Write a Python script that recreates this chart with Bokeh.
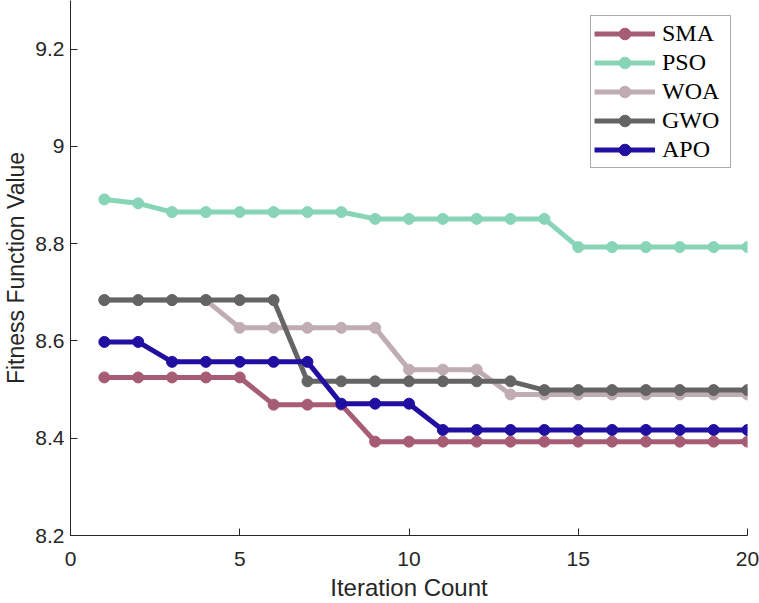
from bokeh.plotting import figure
from bokeh.models import Range1d, FixedTicker, Legend, LegendItem
from bokeh.embed import file_html
from bokeh.resources import INLINE

iterations = list(range(1, 21))
series_names = ["SMA", "PSO", "WOA", "GWO", "APO"]
sma = [8.525]*5 + [8.469]*3 + [8.393]*12
pso = [8.891, 8.883] + [8.865]*6 + [8.851]*6 + [8.793]*6
woa = [8.684]*4 + [8.627]*5 + [8.541]*3 + [8.490]*8
gwo = [8.684]*6 + [8.517]*7 + [8.499]*7
apo = [8.598]*2 + [8.557]*5 + [8.471]*3 + [8.417]*10
colors = ["#A65C73", "#87D5B6", "#C0ACB3", "#646464", "#200FA0"]
x_ticks = [0, 5, 10, 15, 20]
y_ticks = [8.2, 8.4, 8.6, 8.8, 9.0, 9.2]
y_tick_labels = ["8.2", "8.4", "8.6", "8.8", "9", "9.2"]

p = figure(width=759, height=603, x_range=Range1d(0, 20), y_range=Range1d(8.2, 9.3),
           output_backend="svg", toolbar_location=None,
           min_border_left=69, min_border_right=12, min_border_top=0, min_border_bottom=68)
p.outline_line_color = None
p.xgrid.visible = False
p.ygrid.visible = False
p.background_fill_color = "white"
p.border_fill_color = "white"

for ax in (p.xaxis[0], p.yaxis[0]):
    ax.axis_line_color = "#262626"
    ax.major_tick_line_color = "#262626"
    ax.major_tick_in = 7
    ax.major_tick_out = 0
    ax.minor_tick_line_color = None
    ax.major_label_text_font = "Liberation Sans"
    ax.major_label_text_font_size = "21px"
    ax.major_label_text_color = "#262626"
    ax.axis_label_text_font = "Liberation Sans"
    ax.axis_label_text_font_size = "23px"
    ax.axis_label_text_font_style = "normal"
    ax.axis_label_text_color = "#262626"

p.xaxis.ticker = FixedTicker(ticks=x_ticks)
p.yaxis.ticker = FixedTicker(ticks=y_ticks)
p.yaxis.major_label_overrides = {t: l for t, l in zip(y_ticks, y_tick_labels)}
p.xaxis.axis_label = "Iteration Count"
p.yaxis.axis_label = "Fitness Function Value"
p.xaxis.axis_label_text_font_size = "24px"
p.xaxis.major_label_standoff = 16
p.xaxis.axis_label_standoff = 5
p.yaxis.major_label_standoff = 6
p.yaxis.axis_label_standoff = 3

items = []
for name, vals, col in zip(series_names, [sma, pso, woa, gwo, apo], colors):
    r1 = p.line(iterations, vals, line_color=col, line_width=5, line_join="round")
    r2 = p.scatter(iterations, vals, size=11, fill_color=col, line_color=col, marker="circle")
    items.append(LegendItem(label=name, renderers=[r1, r2]))

legend = Legend(items=items, location=(520, 367))
legend.label_text_font = "Liberation Serif"
legend.label_text_font_size = "24px"
legend.label_text_color = "black"
legend.glyph_width = 61
legend.glyph_height = 29
legend.label_height = 29
legend.label_width = 65
legend.label_standoff = 7
legend.spacing = 0
legend.padding = 3
legend.margin = 0
legend.border_line_color = "#555555"
legend.border_line_width = 1
legend.background_fill_color = "white"
legend.background_fill_alpha = 1
p.add_layout(legend, "center")

open("out.html", "w").write(file_html(p, INLINE))
